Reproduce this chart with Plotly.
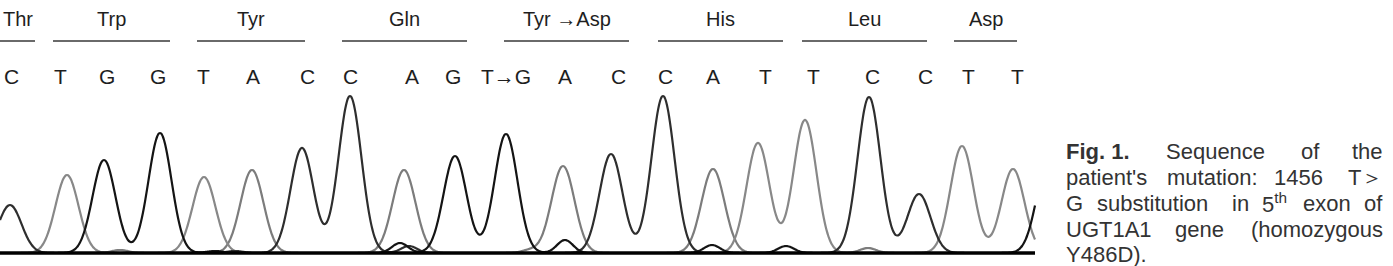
import numpy as np
import plotly.graph_objects as go

# ---- data (scan position, peak height) ----
peak_pos = [10, 67, 104, 160, 204, 252, 302, 350, 404, 455, 506, 563, 611, 663,
            713, 758, 805, 869, 919, 962, 1013, 1048]
peak_height = [48, 78, 93, 120, 76, 83, 105, 157, 83, 97, 119, 87, 99, 157,
               84, 110, 133, 156, 59, 107, 84, 90]
peak_base = ["C", "T", "G", "G", "T", "A", "C", "C", "A", "G", "G", "A", "C", "C",
             "A", "T", "T", "C", "C", "T", "T", "G"]

minor_pos = [120, 215, 235, 400, 409, 530, 565, 712, 786, 868]
minor_height = [3, 2, 2, 10, 7, 3, 13, 8, 7, 5]
minor_base = ["A", "G", "C", "G", "C", "A", "G", "G", "G", "A"]

# base calls
call_letters = ["C", "T", "G", "G", "T", "A", "C", "C", "A", "G", "T<b>→</b>G", "A", "C", "C",
                "A", "T", "T", "C", "C", "T", "T"]
call_pos = [11, 60, 107, 158, 203, 253, 307, 350, 412, 453, 506, 565, 618, 665,
            713, 765, 813, 872, 925, 968, 1017]

# codons
codon_names = ["Thr", "Trp", "Tyr", "Gln", "Tyr <b>→</b>Asp", "His", "Leu", "Asp"]
codon_start = [0, 53, 197, 342, 504, 658, 802, 954]
codon_end = [35, 170, 305, 467, 629, 783, 927, 1017]

scan_end = 1035

# ---- figure ----
W, H = 1393, 266
base_px = 253  # pixel row of the baseline
sigma = 11.5
colors = {"A": "#7c7c7c", "T": "#888888", "C": "#2e2e2e", "G": "#141414"}

xs = np.arange(0, scan_end + 1, 1.0)
signals = {b: np.zeros_like(xs) for b in "ATCG"}
for p, h, b in zip(peak_pos, peak_height, peak_base):
    signals[b] += h * np.exp(-((xs - p) ** 2) / (2 * sigma ** 2))
for p, h, b in zip(minor_pos, minor_height, minor_base):
    signals[b] += h * np.exp(-((xs - p) ** 2) / (2 * 8.0 ** 2))

fig = go.Figure()
for b in ["A", "T", "C", "G"]:
    fig.add_trace(go.Scatter(x=xs, y=signals[b], mode="lines",
                             line=dict(color=colors[b], width=2.2, shape="spline"),
                             hoverinfo="skip", showlegend=False))
# baseline
fig.add_trace(go.Scatter(x=[xs[0], xs[-1]], y=[0, 0], mode="lines",
                         line=dict(color="#000000", width=3.5),
                         hoverinfo="skip", showlegend=False))

FONT = "Liberation Sans, Arial, sans-serif"
ann = []
def yv(px):
    return base_px - px

for t, x in zip(call_letters, call_pos):
    ann.append(dict(x=x, y=yv(76), text=t, showarrow=False, xanchor="center",
                    yanchor="middle", font=dict(family=FONT, size=21, color="#1e1e1e")))

for n, s, e in zip(codon_names, codon_start, codon_end):
    c = (s + e) / 2
    ann.append(dict(x=c, y=yv(19), text=n, showarrow=False, xanchor="center",
                    yanchor="middle", font=dict(family=FONT, size=20, color="#1e1e1e")))
    fig.add_trace(go.Scatter(x=[s, e], y=[yv(41), yv(41)], mode="lines",
                             line=dict(color="#6a6a6a", width=2),
                             hoverinfo="skip", showlegend=False))

# caption (justified: words placed individually)
cap_font = dict(family=FONT, size=22, color="#333333")
L, R = 1064, 1385
lines = [
    (151, [("<b>Fig. 1.</b>", L, "left"), ("Sequence", 1164, "left"), ("of", 1299, "left"), ("the", R, "right")]),
    (177, [("patient's", L, "left"), ("mutation:", 1165, "left"), ("1456", 1272, "left"), ("T＞", R, "right")]),
    (203, [("G", L, "left"), ("substitution", 1095, "left"), ("in", 1230, "left"),
           ("5<sup>th</sup>", 1260, "left"), ("exon", 1301, "left"), ("of", R, "right")]),
    (229, [("UGT1A1", L, "left"), ("gene", 1173, "left"), ("(homozygous", R, "right")]),
    (254, [("Y486D).", L, "left")]),
]
for ypx, words in lines:
    for t, x, anc in words:
        ann.append(dict(x=x, y=yv(ypx), text=t, showarrow=False, xanchor=anc,
                        yanchor="middle", font=cap_font))

fig.update_layout(
    width=W, height=H, margin=dict(l=0, r=0, t=0, b=0),
    paper_bgcolor="white", plot_bgcolor="white",
    xaxis=dict(range=[0, W], visible=False, fixedrange=True),
    yaxis=dict(range=[base_px - H, base_px], visible=False, fixedrange=True),
    annotations=ann, showlegend=False,
)

fig.write_html("out.html")
